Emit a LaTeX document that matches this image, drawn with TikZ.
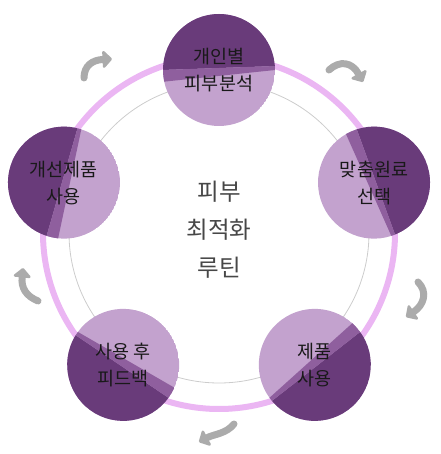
\documentclass[tikz,border=0pt]{standalone}
\usepackage{fontspec}
\newfontfamily\krfont{Noto Sans CJK KR}
\usetikzlibrary{arrows.meta}
\definecolor{plumdark}{HTML}{693B7A}
\definecolor{plummid}{HTML}{8F5F9E}
\definecolor{plumlight}{HTML}{C3A2CE}
\definecolor{ringpink}{HTML}{EBB6F3}
\definecolor{turngray}{HTML}{ABABAB}
\tikzset{%
  stage/.style = {circle, minimum size=112pt, inner sep=0pt,%
                  align=center, text=black!90,%
                  font=\krfont\fontsize{18.5}{27}\selectfont},%
  hub/.style   = {align=center, text=black!72,%
                  font=\krfont\fontsize{23.5}{38}\selectfont},%
  ring/.style  = {draw=ringpink, line width=6pt},%
  guide/.style = {draw=black!20, line width=0.8pt},%
  turn/.style  = {draw=turngray, line width=7pt, line cap=round,%
                  -{Triangle[length=10pt, width=20pt, round]}}%
}
\begin{document}
\begin{tikzpicture}[x=1pt, y=1pt]
  \useasboundingbox (-219,-221) rectangle (221,233);
  % track behind the stages
  \draw[guide] (0,0) circle[radius=150];
  \draw[ring] (0,0) circle[radius=176];
  % two-tone discs, dark half facing out
  \foreach \a in {90,18,-54,-126,162}{
    \begin{scope}[shift={(\a:163)}, rotate=\a-90]
      \clip (0,0) circle[radius=56];
      \fill[plumlight] (0,0) circle[radius=56];
      \fill[plumdark] (-60,-0.1) -- (60,4.1) -- (60,60) -- (-60,60) -- cycle;
      \fill[plummid] (-60,-0.1) -- (60,4.1) -- (60,0.4) -- (-60,-12.2) -- cycle;
    \end{scope}
  }
  % stages, clockwise from the top
  \node[stage] (analysis) at (90:163)   {개인별\\피부분석};
  \node[stage] (select)   at (18:163)   {맞춤원료\\선택};
  \node[stage] (apply)    at (-54:163)  {제품\\사용};
  \node[stage] (feedback) at (-126:163) {사용 후\\피드백};
  \node[stage] (improve)  at (162:163)  {개선제품\\사용};
  \node[hub] (routine) at (0,3) {피부\\최적화\\루틴};
  % turning arrows
  \draw[turn] (110,163) .. controls (121,173) and (133,171) .. (144,151);
  \draw[turn] (199,-49) .. controls (209,-59) and (205,-72) .. (187,-84);
  \draw[turn] (15,-191) .. controls (7,-201) and (-5,-201) .. (-20,-209);
  \draw[turn] (-181,-68) .. controls (-193,-63) and (-198,-55) .. (-196,-35);
  \draw[turn] (-135,155) .. controls (-135,167) and (-127,173) .. (-107,174);
\end{tikzpicture}
\end{document}
